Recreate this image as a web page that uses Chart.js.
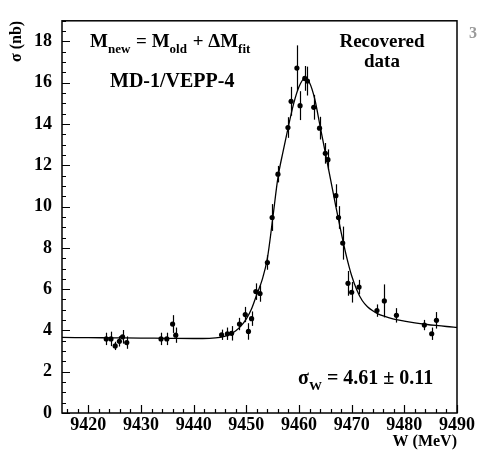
<!DOCTYPE html>
<html>
<head>
<meta charset="utf-8">
<script src="https://cdn.jsdelivr.net/npm/chart.js@4.4.1/dist/chart.umd.min.js"></script>
<style>
html,body{margin:0;padding:0;background:#fff;}
#wrap{width:477px;height:453px;}
</style>
</head>
<body>
<div id="wrap"><canvas id="c" width="477" height="453"></canvas></div>
<script>
// ---- data ----
const energyW = [9423.4, 9424.3, 9425.1, 9425.9, 9426.5, 9427.3, 9433.8, 9434.9, 9436.0, 9436.6,
  9445.3, 9446.4, 9447.2, 9448.7, 9449.8, 9450.4, 9451.0, 9451.8, 9452.6, 9454.0,
  9454.9, 9456.0, 9457.9, 9458.5, 9459.6, 9460.2, 9461.1, 9461.6, 9462.8, 9463.9,
  9465.0, 9465.5, 9467.0, 9467.5, 9468.3, 9469.3, 9470.0, 9471.4, 9474.8, 9476.2,
  9478.5, 9483.8, 9485.2, 9486.1];
const crossSection = [3.59, 3.59, 3.25, 3.47, 3.69, 3.41, 3.59, 3.59, 4.31, 3.77,
  3.79, 3.84, 3.86, 4.31, 4.77, 3.95, 4.57, 5.88, 5.79, 7.29,
  9.47, 11.57, 13.83, 15.10, 16.71, 14.89, 16.21, 16.08, 14.81, 13.80,
  12.58, 12.27, 10.53, 9.47, 8.23, 6.28, 5.85, 6.10, 4.96, 5.43,
  4.73, 4.26, 3.84, 4.49];
const crossSectionErr = [0.30, 0.35, 0.20, 0.25, 0.33, 0.30, 0.30, 0.30, 0.43, 0.37,
  0.25, 0.30, 0.35, 0.30, 0.37, 0.40, 0.35, 0.40, 0.40, 0.35,
  0.65, 0.40, 0.50, 0.70, 1.10, 0.70, 0.60, 0.70, 0.60, 0.55,
  0.50, 0.50, 0.55, 0.55, 0.80, 0.60, 0.50, 0.35, 0.30, 0.80,
  0.35, 0.25, 0.30, 0.40];
const fitW = [9415, 9420, 9425, 9430, 9435, 9440, 9443, 9445, 9446, 9447, 9448, 9449, 9450,
  9451, 9452, 9453, 9454, 9455, 9456, 9457, 9458, 9459, 9460, 9461, 9462, 9463, 9464,
  9465, 9466, 9467, 9468, 9469, 9470, 9471, 9472, 9473, 9474, 9475, 9476, 9478, 9480,
  9482, 9484, 9486, 9488, 9490];
const fitSigma = [3.66, 3.65, 3.64, 3.63, 3.62, 3.61, 3.62, 3.66, 3.72, 3.82, 3.98, 4.22, 4.56,
  5.05, 5.75, 6.45, 7.5, 9.4, 11.4, 12.7, 13.9, 15.0, 15.8, 16.2, 16.0, 15.2, 13.9,
  12.6, 11.3, 10.0, 8.75, 7.6, 6.65, 5.95, 5.45, 5.15, 4.95, 4.8, 4.7, 4.55, 4.45,
  4.37, 4.3, 4.24, 4.19, 4.15];
const xTickValues = [9420, 9430, 9440, 9450, 9460, 9470, 9480, 9490];
const yTickValues = [0, 2, 4, 6, 8, 10, 12, 14, 16, 18];

const SERIF = "'Liberation Serif', 'Times New Roman', serif";

const framePlugin = {
  id: 'frame',
  afterDatasetsDraw(chart) {
    const ctx = chart.ctx;
    const xs = chart.scales.x, ys = chart.scales.y;
    const a = chart.chartArea;
    ctx.save();
    // error bars
    ctx.strokeStyle = '#000';
    ctx.lineWidth = 1.2;
    energyW.forEach((w, i) => {
      const px = Math.round(xs.getPixelForValue(w)) + 0.5;
      ctx.beginPath();
      ctx.moveTo(px, ys.getPixelForValue(crossSection[i] - crossSectionErr[i]));
      ctx.lineTo(px, ys.getPixelForValue(crossSection[i] + crossSectionErr[i]));
      ctx.stroke();
    });
    // frame
    ctx.lineWidth = 1.5;
    ctx.strokeStyle = '#000';
    ctx.strokeRect(a.left, a.top, a.right - a.left, a.bottom - a.top);
    // ticks (inside)
    ctx.lineWidth = 1.2;
    ctx.beginPath();
    for (let v = 0; v <= 19.001; v += 0.5) {
      const py = Math.round(ys.getPixelForValue(v)) + 0.5;
      const major = yTickValues.includes(v);
      ctx.moveTo(a.left, py); ctx.lineTo(a.left + (major ? 8 : 4), py);
    }
    for (let w = 9416; w <= 9490; w += 2) {
      const px = Math.round(xs.getPixelForValue(w)) + 0.5;
      const major = xTickValues.includes(w);
      ctx.moveTo(px, a.bottom); ctx.lineTo(px, a.bottom - (major ? 8 : 4));
    }
    ctx.stroke();
    ctx.restore();
  },
  afterDraw(chart) {
    const ctx = chart.ctx;
    ctx.save();
    ctx.fillStyle = '#000';
    ctx.textBaseline = 'alphabetic';
    const main = 'bold 19px ' + SERIF, sub = 'bold 13px ' + SERIF;
    // M_new = M_old + ΔM_fit
    const pieces = [['M', main, 0], ['new', sub, 6], [' = M', main, 0], ['old', sub, 6], [' + \u0394M', main, 0], ['fit', sub, 6]];
    let x = 90;
    pieces.forEach(([t, f, dy]) => {
      ctx.font = f;
      ctx.fillText(t, x, 47 + dy);
      x += ctx.measureText(t).width + (dy ? 1 : 0);
    });
    ctx.font = 'bold 20px ' + SERIF;
    ctx.fillText('MD-1/VEPP-4', 110, 87);
    ctx.font = 'bold 19px ' + SERIF;
    ctx.textAlign = 'center';
    ctx.fillText('Recovered', 382, 47);
    ctx.fillText('data', 382, 67);
    ctx.textAlign = 'left';
    // sigma_W
    x = 298;
    [['\u03c3', 'bold 20px ' + SERIF, 0], ['W', 'bold 13px ' + SERIF, 6], [' = 4.61 \u00b1 0.11', 'bold 20px ' + SERIF, 0]].forEach(([t, f, dy]) => {
      ctx.font = f;
      ctx.fillText(t, x, 384 + dy);
      x += ctx.measureText(t).width;
    });
    // clipped neighbour label at right edge
    ctx.fillStyle = '#999';
    ctx.font = 'bold 16px ' + SERIF;
    ctx.fillText('3', 469, 38);
    ctx.restore();
  }
};

new Chart(document.getElementById('c'), {
  type: 'scatter',
  data: {
    datasets: [
      {
        label: 'fit',
        type: 'line',
        data: fitW.map((w, i) => ({x: w, y: fitSigma[i]})),
        borderColor: '#000',
        borderWidth: 1.3,
        pointRadius: 0,
        fill: false,
        cubicInterpolationMode: 'monotone',
        order: 2
      },
      {
        label: 'data',
        data: energyW.map((w, i) => ({x: w, y: crossSection[i]})),
        backgroundColor: '#000',
        borderColor: '#000',
        pointRadius: 2.6,
        pointBorderWidth: 0,
        order: 1
      }
    ]
  },
  options: {
    responsive: false,
    animation: false,
    devicePixelRatio: 1,
    layout: {padding: {left: 0, right: 20, top: 5, bottom: 0}},
    plugins: {legend: {display: false}, tooltip: {enabled: false}},
    scales: {
      x: {
        type: 'linear', min: 9415, max: 9490,
        afterBuildTicks: s => { s.ticks = xTickValues.map(v => ({value: v})); },
        afterFit: s => { s.height = 40; },
        grid: {display: false, drawTicks: false},
        border: {display: false},
        ticks: {padding: 2, color: '#000', font: {family: SERIF, weight: 'bold', size: 18}, maxRotation: 0, autoSkip: false, callback: v => String(v)},
        title: {display: true, text: 'W (MeV)', align: 'end', color: '#000', font: {family: SERIF, weight: 'bold', size: 16}, padding: {top: 0, bottom: 2}}
      },
      y: {
        type: 'linear', min: 0, max: 19,
        afterBuildTicks: s => { s.ticks = yTickValues.map(v => ({value: v})); },
        afterFit: s => { s.width = 62; },
        grid: {display: false, drawTicks: false},
        border: {display: false},
        ticks: {padding: 10, color: '#000', font: {family: SERIF, weight: 'bold', size: 18}, autoSkip: false, callback: v => String(v)},
        title: {display: true, text: '\u03c3 (nb)', align: 'end', color: '#000', font: {family: SERIF, weight: 'bold', size: 16}, padding: {top: 7, bottom: 0}}
      }
    }
  },
  plugins: [framePlugin]
});
</script>
</body>
</html>
